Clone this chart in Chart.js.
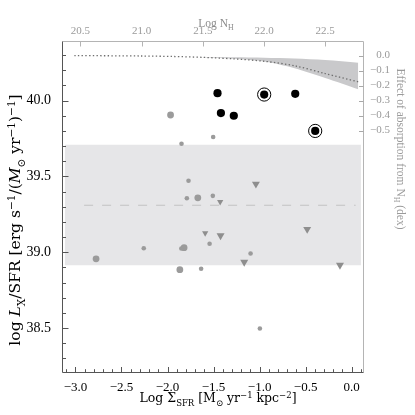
<!DOCTYPE html>
<html><head><meta charset="utf-8">
<script src="https://cdn.jsdelivr.net/npm/chart.js@4.4.1/dist/chart.umd.min.js"></script>
<style>html,body{margin:0;padding:0;background:#fff;}canvas{display:block;}</style>
</head><body>
<canvas id="c" width="415" height="415"></canvas>
<script>
// ---------- data ----------
const xTicks = [-3.0, -2.5, -2.0, -1.5, -1.0, -0.5, 0.0];
const yTicks = [38.5, 39.0, 39.5, 40.0];
const nhTicks = [20.5, 21.0, 21.5, 22.0, 22.5];
const dexTicks = [0.0, -0.1, -0.2, -0.3, -0.4, -0.5];

const blackX = [-1.457, -0.950, -0.613, -1.420, -1.280, -0.396];
const blackY = [40.049, 40.040, 40.045, 39.918, 39.900, 39.800];
const circledX = [-0.950, -0.396];
const circledY = [40.040, 39.800];

const graySmallX = [-1.848, -1.504, -1.772, -1.790, -1.508, -1.543, -2.258, -1.850, -1.635, -1.098, -0.997];
const graySmallY = [39.716, 39.760, 39.472, 39.356, 39.372, 39.056, 39.027, 39.025, 38.891, 38.992, 38.497];
const grayBigX = [-1.967, -1.671, -1.820, -2.776, -1.866];
const grayBigY = [39.905, 39.359, 39.030, 38.957, 38.885];

const triSmallX = [-1.428, -1.591];
const triSmallY = [39.332, 39.126];
const triBigX = [-1.040, -1.424, -0.483, -1.167, -0.127];
const triBigY = [39.450, 39.110, 39.152, 38.935, 38.915];

const bandX = [-3.116, 0.101];
const bandLow = 38.915, bandHigh = 39.709;
const meanX = [-2.906, 0.043];
const meanY = 39.31;

const nhCurve  = [20.45, 21.0, 21.25, 21.5, 21.75, 22.0, 22.25, 22.5, 22.77];
const dexCurve = [0.0, -0.003, -0.006, -0.012, -0.022, -0.038, -0.068, -0.12, -0.175];
const nhBand       = [21.5, 21.75, 22.0, 22.25, 22.5, 22.77];
const dexBandUpper = [-0.010, -0.012, -0.015, -0.020, -0.030, -0.048];
const dexBandLower = [-0.012, -0.022, -0.040, -0.085, -0.150, -0.225];

// ---------- helpers ----------
const pts = (xs, ys) => xs.map((x, i) => ({x, y: ys[i]}));
const fmt = v => (v < -1e-9 ? '\u2212' : '') + Math.abs(v).toFixed(1);
const SERIF = '"Liberation Serif", "Times New Roman", serif';
const WIDE = '"DejaVu Serif", serif';

function fixTicks(list){ return s => { s.ticks = list.map(v => ({value: v})); }; }

function drawRich(ctx, parts, x, y, rot, size, color, family){
  ctx.save();
  ctx.translate(x, y);
  ctx.rotate(rot);
  ctx.fillStyle = color;
  ctx.textBaseline = 'alphabetic';
  const fontOf = p => {
    const s = p.s ? size * 0.68 : size;
    return (p.i ? 'italic ' : '') + s + 'px ' + family;
  };
  let w = 0;
  parts.forEach(p => { ctx.font = fontOf(p); w += ctx.measureText(p.t).width; });
  let cx = -w / 2;
  const base = size * 0.35;
  parts.forEach(p => {
    ctx.font = fontOf(p);
    let dy = base;
    if (p.s === 'sub') dy += size * 0.28;
    if (p.s === 'sup') dy -= size * 0.38;
    ctx.fillText(p.t, cx, dy);
    cx += ctx.measureText(p.t).width;
  });
  ctx.restore();
}

const framePlugin = {
  id: 'frame',
  afterDatasetsDraw(chart){
    const {ctx, chartArea: a, scales} = chart;
    const L = Math.round(a.left) + 0.5, R = Math.round(a.right) - 0.5;
    const T = Math.round(a.top) + 0.5, B = Math.round(a.bottom) - 0.5;
    ctx.save();
    ctx.lineWidth = 1;
    const seg = (x1, y1, x2, y2, c) => { ctx.strokeStyle = c; ctx.beginPath(); ctx.moveTo(x1, y1); ctx.lineTo(x2, y2); ctx.stroke(); };
    seg(L, T, R, T, '#b4b4b4');
    seg(R, T, R, B, '#b4b4b4');
    seg(L, T, L, B, '#555');
    seg(L, B, R, B, '#555');
    for (let k = 383; k <= 403; k++) {
      const py = Math.round(scales.y.getPixelForValue(k / 10)) + 0.5;
      seg(L, py, L + ((k % 5 === 0) ? 6 : 3.5), py, '#555');
    }
    for (let k = -31; k <= 1; k++) {
      const px = Math.round(scales.x.getPixelForValue(k / 10)) + 0.5;
      seg(px, B, px, B - ((k % 5 === 0) ? 5.5 : 3.3), '#555');
    }
    nhTicks.forEach(v => {
      const px = Math.round(scales.x2.getPixelForValue(v)) + 0.5;
      seg(px, T, px, T + 5, '#b4b4b4');
    });
    dexTicks.forEach(v => {
      const py = Math.round(scales.y2.getPixelForValue(v)) + 0.5;
      seg(R, py, R - 4.5, py, '#a8a8a8');
    });
    ctx.restore();
  },
  afterDraw(chart){
    const ctx = chart.ctx;
    drawRich(ctx, [
      {t: 'log '}, {t: 'L', i: 1}, {t: 'X', s: 'sub'}, {t: '/SFR [erg s'}, {t: '\u22121', s: 'sup'},
      {t: '/('}, {t: 'M', i: 1}, {t: '\u2299', s: 'sub'}, {t: ' yr'}, {t: '\u22121', s: 'sup'},
      {t: ')'}, {t: '\u22121', s: 'sup'}, {t: ']'}
    ], 15, 220, -Math.PI / 2, 15.5, '#000', WIDE);
    drawRich(ctx, [
      {t: 'Log \u03A3'}, {t: 'SFR', s: 'sub'}, {t: ' [M'}, {t: '\u2299', s: 'sub'}, {t: ' yr'},
      {t: '\u22121', s: 'sup'}, {t: ' kpc'}, {t: '\u22122', s: 'sup'}, {t: ']'}
    ], 218, 398, 0, 12.5, '#000', WIDE);
    drawRich(ctx, [{t: 'Log N'}, {t: 'H', s: 'sub'}], 216, 23, 0, 11.5, '#8a8a8a', SERIF);
    drawRich(ctx, [
      {t: 'Effect of absorption from N'}, {t: 'H', s: 'sub'}, {t: ' (dex)'}
    ], 401, 149, Math.PI / 2, 11.5, '#9a9a9a', SERIF);
  }
};

const grayC = '#9b9b9b';
const triC = '#8e8e8e';

new Chart(document.getElementById('c'), {
  type: 'scatter',
  data: {
    datasets: [
      { type: 'line', data: pts(bandX, [bandHigh, bandHigh]), xAxisID: 'x', yAxisID: 'y',
        borderWidth: 0, pointRadius: 0, backgroundColor: '#e6e6e8', fill: {value: bandLow}, order: 100 },
      { type: 'line', data: pts(meanX, [meanY, meanY]), xAxisID: 'x', yAxisID: 'y',
        borderColor: '#c2c2c2', borderWidth: 1, borderDash: [9, 9], pointRadius: 0, fill: false, order: 90 },
      { type: 'line', data: pts(nhBand, dexBandUpper), xAxisID: 'x2', yAxisID: 'y2',
        borderWidth: 0, pointRadius: 0, backgroundColor: '#c9c9cb', fill: '+1', tension: 0.3, order: 80 },
      { type: 'line', data: pts(nhBand, dexBandLower), xAxisID: 'x2', yAxisID: 'y2',
        borderWidth: 0, pointRadius: 0, fill: false, tension: 0.3, order: 80 },
      { type: 'line', data: pts(nhCurve, dexCurve), xAxisID: 'x2', yAxisID: 'y2',
        borderColor: '#6e6e6e', borderWidth: 1.3, borderDash: [1.4, 2.3], pointRadius: 0, fill: false, tension: 0.3, order: 70 },
      { data: pts(graySmallX, graySmallY), xAxisID: 'x', yAxisID: 'y',
        pointRadius: 2.3, pointBackgroundColor: grayC, pointBorderWidth: 0, order: 50 },
      { data: pts(grayBigX, grayBigY), xAxisID: 'x', yAxisID: 'y',
        pointRadius: 3.4, pointBackgroundColor: grayC, pointBorderWidth: 0, order: 50 },
      { data: pts(triSmallX, triSmallY), xAxisID: 'x', yAxisID: 'y', pointStyle: 'triangle', rotation: 180,
        pointRadius: 3.6, pointBackgroundColor: triC, pointBorderWidth: 0, order: 50 },
      { data: pts(triBigX, triBigY), xAxisID: 'x', yAxisID: 'y', pointStyle: 'triangle', rotation: 180,
        pointRadius: 4.6, pointBackgroundColor: triC, pointBorderWidth: 0, order: 50 },
      { data: pts(circledX, circledY), xAxisID: 'x', yAxisID: 'y',
        pointRadius: 6.6, pointBackgroundColor: '#fff', pointBorderColor: '#000', pointBorderWidth: 1, order: 20 },
      { data: pts(blackX, blackY), xAxisID: 'x', yAxisID: 'y',
        pointRadius: 4.1, pointBackgroundColor: '#000', pointBorderWidth: 0, order: 10 }
    ]
  },
  options: {
    responsive: false,
    animation: false,
    devicePixelRatio: 1,
    layout: {padding: {left: 0, top: 0, bottom: 0, right: 25}},
    plugins: {legend: {display: false}, tooltip: {enabled: false}},
    scales: {
      x: { type: 'linear', position: 'bottom', min: -3.146, max: 0.134,
        grid: {display: false, drawTicks: false}, border: {display: false},
        afterBuildTicks: fixTicks(xTicks), afterFit: s => { s.height = 42; },
        ticks: {callback: fmt, autoSkip: false, maxRotation: 0, padding: 7, color: '#000',
          font: {family: SERIF, size: 13}} },
      y: { type: 'linear', position: 'left', min: 38.204, max: 40.393,
        grid: {display: false, drawTicks: false}, border: {display: false},
        afterBuildTicks: fixTicks(yTicks), afterFit: s => { s.width = 62; },
        ticks: {callback: fmt, autoSkip: false, padding: 11, color: '#000',
          font: {family: SERIF, size: 14}} },
      x2: { type: 'linear', position: 'top', min: 20.349, max: 22.817,
        grid: {display: false, drawTicks: false}, border: {display: false},
        afterBuildTicks: fixTicks(nhTicks), afterFit: s => { s.height = 41; },
        ticks: {callback: fmt, autoSkip: false, maxRotation: 0, padding: 3, color: '#9a9a9a',
          font: {family: SERIF, size: 11}} },
      y2: { type: 'linear', position: 'right', min: -2.115, max: 0.097,
        grid: {display: false, drawTicks: false}, border: {display: false},
        afterBuildTicks: fixTicks(dexTicks), afterFit: s => { s.width = 26; },
        ticks: {callback: fmt, autoSkip: false, padding: 4, crossAlign: 'far', color: '#9a9a9a',
          font: {family: SERIF, size: 11}} }
    }
  },
  plugins: [framePlugin]
});
</script>
</body></html>
